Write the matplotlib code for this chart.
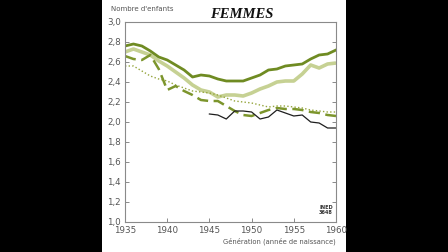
import numpy as np
import matplotlib
matplotlib.use("Agg")
import matplotlib.pyplot as plt
from matplotlib.patches import Rectangle
from matplotlib.ticker import FuncFormatter

# generations (birth years)
years = list(range(1935, 1961))
years_black = list(range(1945, 1961))

# completed fertility
dark_green = [2.76, 2.78, 2.76, 2.71, 2.65, 2.62, 2.57, 2.52, 2.45, 2.47, 2.46, 2.43, 2.41,
              2.41, 2.41, 2.44, 2.47, 2.52, 2.53, 2.56, 2.57, 2.58, 2.63, 2.67, 2.68, 2.72]
light_green = [2.70, 2.73, 2.70, 2.67, 2.61, 2.56, 2.50, 2.44, 2.37, 2.32, 2.30, 2.25, 2.27,
               2.27, 2.26, 2.29, 2.33, 2.36, 2.40, 2.41, 2.41, 2.48, 2.57, 2.54, 2.58, 2.59]
dashed_green = [2.66, 2.63, 2.62, 2.67, 2.53, 2.32, 2.36, 2.31, 2.27, 2.22, 2.21, 2.21, 2.16,
                2.11, 2.07, 2.06, 2.09, 2.12, 2.14, 2.13, 2.13, 2.12, 2.10, 2.09, 2.07, 2.06]
dotted_green = [2.56, 2.56, 2.51, 2.46, 2.43, 2.41, 2.37, 2.34, 2.31, 2.30, 2.29, 2.27, 2.24,
                2.21, 2.20, 2.19, 2.17, 2.15, 2.16, 2.16, 2.15, 2.14, 2.12, 2.11, 2.10, 2.10]
black_line = [2.08, 2.07, 2.03, 2.11, 2.11, 2.10, 2.03, 2.05, 2.12, 2.09, 2.06, 2.07,
              2.00, 1.99, 1.94, 1.94]

xticks = [1935, 1940, 1945, 1950, 1955, 1960]
yticks = [1.0, 1.2, 1.4, 1.6, 1.8, 2.0, 2.2, 2.4, 2.6, 2.8, 3.0]

fig = plt.figure(figsize=(4.48, 2.52), dpi=100, facecolor="black")
# white panel in the middle of the black frame
panel = Rectangle((102 / 448, 0), 244 / 448, 1, transform=fig.transFigure,
                  facecolor="white", edgecolor="none", zorder=-10)
fig.add_artist(panel)

ax = fig.add_axes([125 / 448, 1 - 222 / 252, 211 / 448, 200 / 252])
ax.set_zorder(2)
ax.set_facecolor("white")

ax.plot(years, light_green, color="#c6d193", lw=2.6, solid_capstyle="butt")
ax.plot(years, dotted_green, color="#95a53c", lw=1.0, linestyle=(0, (1, 1.6)))
ax.plot(years, dashed_green, color="#7c952c", lw=1.8, linestyle=(0, (4.5, 2.2)))
ax.plot(years, dark_green, color="#6f8b22", lw=2.0)
ax.plot(years_black, black_line, color="#1e1e1e", lw=0.9)

ax.set_xlim(1935, 1960)
ax.set_ylim(1.0, 3.0)
ax.set_xticks(xticks)
ax.set_yticks(yticks)
ax.yaxis.set_major_formatter(FuncFormatter(lambda v, p: f"{v:.1f}".replace(".", ",")))

for s in ax.spines.values():
    s.set_color("#8a8a8a")
    s.set_linewidth(0.8)
ax.tick_params(direction="in", length=3, width=0.7, color="#8a8a8a",
               labelsize=6.3, labelcolor="#555555", pad=3)
ax.tick_params(axis="y", right=True, labelright=False)

fig.text(111 / 448, 1 - 9 / 252, "Nombre d'enfants", fontsize=5.0, color="#555555",
         ha="left", va="center")
fig.text(242 / 448, 1 - 14 / 252, "FEMMES", fontsize=10.5, family="Liberation Serif",
         fontweight="bold", fontstyle="italic", color="#111111", ha="center", va="center")
fig.text(336 / 448, 1 - 241 / 252, "Génération (année de naissance)", fontsize=4.9,
         color="#555555", ha="right", va="center")
ax.text(0.985, 0.035, "INED\n3648", transform=ax.transAxes, fontsize=3.6,
        fontweight="bold", color="#333333", ha="right", va="bottom", linespacing=0.9)

fig.savefig("out.png", dpi=100, facecolor="black")
